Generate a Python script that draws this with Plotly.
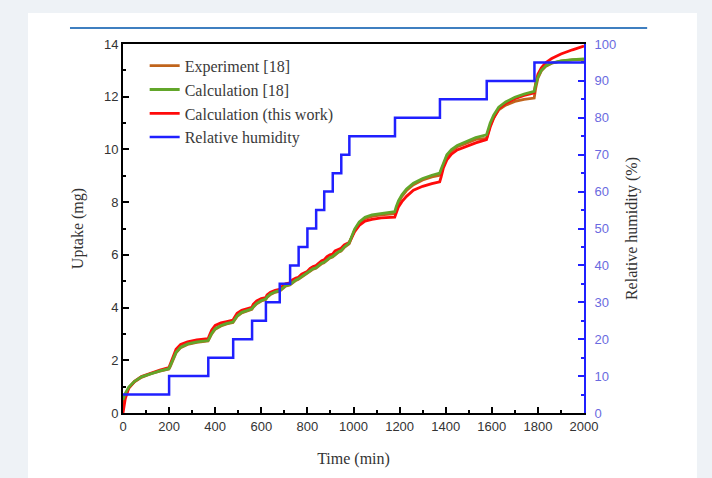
import plotly.graph_objects as go

# Time grid (min) for the uptake curves
time_min = [0, 10, 25, 50, 80, 120, 160, 199, 205, 215, 230, 250, 280, 320, 369,
            375, 385, 400, 425, 450, 477, 483, 495, 515, 540, 559, 565, 580, 600,
            619, 625, 640, 660, 679, 690, 705, 724, 735, 750, 761, 775, 790, 799,
            812, 825, 837, 850, 862, 872, 885, 898, 909, 920, 935, 946, 960, 981,
            990, 1005, 1025, 1050, 1080, 1120, 1179, 1185, 1195, 1210, 1230, 1260,
            1300, 1340, 1374, 1380, 1390, 1405, 1425, 1450, 1490, 1530, 1577, 1583,
            1593, 1608, 1630, 1660, 1700, 1740, 1784, 1790, 1800, 1815, 1835, 1860,
            1900, 1950, 2000]

# Uptake (mg), calculation of this work
uptake_this_work = [0.0, 0.55, 0.95, 1.2, 1.38, 1.52, 1.63, 1.72, 1.85, 2.12, 2.42, 2.6,
                    2.7, 2.77, 2.82, 2.95, 3.15, 3.32, 3.42, 3.47, 3.52, 3.62, 3.78, 3.9,
                    3.97, 4.01, 4.12, 4.25, 4.34, 4.38, 4.48, 4.58, 4.65, 4.69, 4.8, 4.9,
                    4.94, 5.05, 5.12, 5.15, 5.27, 5.34, 5.37, 5.49, 5.56, 5.59, 5.71, 5.78,
                    5.81, 5.93, 6.0, 6.03, 6.15, 6.22, 6.25, 6.38, 6.47, 6.62, 6.88, 7.12,
                    7.28, 7.35, 7.4, 7.43, 7.6, 7.82, 8.02, 8.22, 8.45, 8.6, 8.7, 8.77,
                    8.95, 9.3, 9.6, 9.82, 9.98, 10.12, 10.25, 10.37, 10.55, 10.85, 11.18,
                    11.55, 11.75, 11.93, 12.05, 12.15, 12.5, 12.85, 13.1, 13.3, 13.45,
                    13.62, 13.78, 13.92]

# Uptake (mg), calculation from ref. [18]
uptake_calc_18 = [0.5, 0.75, 0.98, 1.2, 1.37, 1.5, 1.6, 1.68, 1.78, 2.0, 2.3, 2.5, 2.62,
                  2.7, 2.75, 2.85, 3.03, 3.2, 3.32, 3.4, 3.45, 3.53, 3.68, 3.82, 3.9,
                  3.95, 4.03, 4.16, 4.27, 4.32, 4.4, 4.52, 4.6, 4.64, 4.72, 4.83, 4.88,
                  4.96, 5.05, 5.09, 5.18, 5.27, 5.3, 5.39, 5.48, 5.51, 5.6, 5.69, 5.72,
                  5.82, 5.9, 5.94, 6.03, 6.12, 6.16, 6.3, 6.45, 6.68, 6.98, 7.25, 7.43,
                  7.52, 7.58, 7.64, 7.82, 8.05, 8.28, 8.5, 8.72, 8.9, 9.02, 9.1, 9.25,
                  9.5, 9.8, 10.0, 10.15, 10.3, 10.45, 10.55, 10.75, 11.0, 11.3, 11.6,
                  11.8, 11.98, 12.1, 12.2, 12.45, 12.75, 13.0, 13.18, 13.28, 13.36,
                  13.41, 13.43]

# Uptake (mg), experiment from ref. [18]
uptake_experiment = [0.3, 0.65, 0.95, 1.18, 1.35, 1.49, 1.59, 1.67, 1.76, 1.98, 2.28,
                     2.48, 2.6, 2.68, 2.73, 2.83, 3.0, 3.18, 3.3, 3.38, 3.43, 3.51, 3.66,
                     3.8, 3.88, 3.93, 4.01, 4.14, 4.25, 4.3, 4.38, 4.5, 4.58, 4.62, 4.7,
                     4.81, 4.86, 4.94, 5.03, 5.07, 5.16, 5.25, 5.28, 5.37, 5.46, 5.49,
                     5.58, 5.67, 5.7, 5.8, 5.88, 5.92, 6.01, 6.1, 6.14, 6.28, 6.42, 6.64,
                     6.94, 7.2, 7.38, 7.46, 7.52, 7.56, 7.74, 7.98, 8.22, 8.44, 8.66, 8.84,
                     8.96, 9.02, 9.18, 9.44, 9.74, 9.94, 10.1, 10.24, 10.38, 10.42, 10.62,
                     10.9, 11.2, 11.5, 11.68, 11.82, 11.9, 11.95, 12.3, 12.7, 12.98,
                     13.16, 13.27, 13.35, 13.4, 13.42]

# Relative humidity steps (%), each value held until the next time point
rh_time = [0, 200, 370, 478, 560, 620, 680, 725, 762, 800, 838, 873, 910, 947, 982,
           1180, 1375, 1578, 1785, 2000]
rh_value = [5, 10, 15, 20, 25, 30, 35, 40, 45, 50, 55, 60, 65, 70, 75, 80, 85, 90,
            95, 95]

x_ticks = list(range(0, 2001, 200))
y_ticks = list(range(0, 15, 2))
y2_ticks = list(range(0, 101, 10))

SERIF = "Liberation Serif"
SANS = "Liberation Sans"

fig = go.Figure()

fig.add_trace(go.Scatter(x=time_min, y=uptake_experiment, mode="lines",
                         name="Experiment [18]", legendrank=1,
                         line=dict(color="#c0641c", width=2.8)))
fig.add_trace(go.Scatter(x=time_min, y=uptake_this_work, mode="lines",
                         name="Calculation (this work)", legendrank=3,
                         line=dict(color="#ff0a0a", width=2.8)))
fig.add_trace(go.Scatter(x=time_min, y=uptake_calc_18, mode="lines",
                         name="Calculation [18]", legendrank=2,
                         line=dict(color="#62a62a", width=2.8)))
fig.add_trace(go.Scatter(x=rh_time, y=rh_value, mode="lines", yaxis="y2",
                         name="Relative humidity", legendrank=4,
                         line=dict(color="#2020ff", width=2.5, shape="hv")))

# Page card and header rule behind the chart
fig.add_shape(type="rect", xref="paper", yref="paper", layer="below",
              x0=-0.206, x1=1.245, y0=-0.3, y1=1.084,
              fillcolor="white", line=dict(width=0))
fig.add_shape(type="line", xref="paper", yref="paper", layer="below",
              x0=-0.115, x1=1.137, y0=1.0434, y1=1.0434,
              line=dict(color="#3f7fc0", width=2.2))

fig.update_layout(
    width=712, height=478,
    margin=dict(l=123, r=128, t=44, b=65),
    paper_bgcolor="#eef2f6",
    plot_bgcolor="white",
    showlegend=True,
    legend=dict(x=0.047, y=0.987, xanchor="left", yanchor="top",
                bgcolor="rgba(0,0,0,0)", borderwidth=0,
                font=dict(family=SERIF, size=16, color="#3a3a3a"),
                tracegroupgap=0),
    xaxis=dict(
        range=[0, 2000], tickvals=x_ticks, ticks="inside", ticklen=6,
        tickwidth=1.5, tickcolor="black",
        minor=dict(dtick=100, ticks="inside", ticklen=3, tickcolor="black"),
        showline=True, linecolor="black", linewidth=2, mirror=True,
        showgrid=False, zeroline=False,
        tickfont=dict(family=SANS, size=13, color="#333333"),
        title=dict(text="Time (min)", font=dict(family=SERIF, size=16, color="#333333"),
                   standoff=20),
    ),
    yaxis=dict(
        range=[0, 14], tickvals=y_ticks, ticks="inside", ticklen=6,
        tickwidth=1.5, tickcolor="black",
        minor=dict(dtick=1, ticks="inside", ticklen=3, tickcolor="black"),
        showline=True, linecolor="black", linewidth=2,
        showgrid=False, zeroline=False,
        tickfont=dict(family=SANS, size=13, color="#333333"),
        title=dict(text="Uptake (mg)", font=dict(family=SERIF, size=16, color="#333333"),
                   standoff=16),
    ),
    yaxis2=dict(
        range=[0, 100], tickvals=y2_ticks, ticks="inside", ticklen=6,
        tickwidth=1.5, tickcolor="#2020ff",
        minor=dict(dtick=5, ticks="inside", ticklen=3, tickcolor="#2020ff"),
        overlaying="y", side="right",
        showline=True, linecolor="#2020ff", linewidth=2,
        showgrid=False, zeroline=False, ticklabelstandoff=6,
        tickfont=dict(family=SANS, size=13, color="#6a6ae0"),
        title=dict(text="Relative humidity (%)",
                   font=dict(family=SERIF, size=16, color="#333333"), standoff=10),
    ),
)

fig.write_html("out.html")
